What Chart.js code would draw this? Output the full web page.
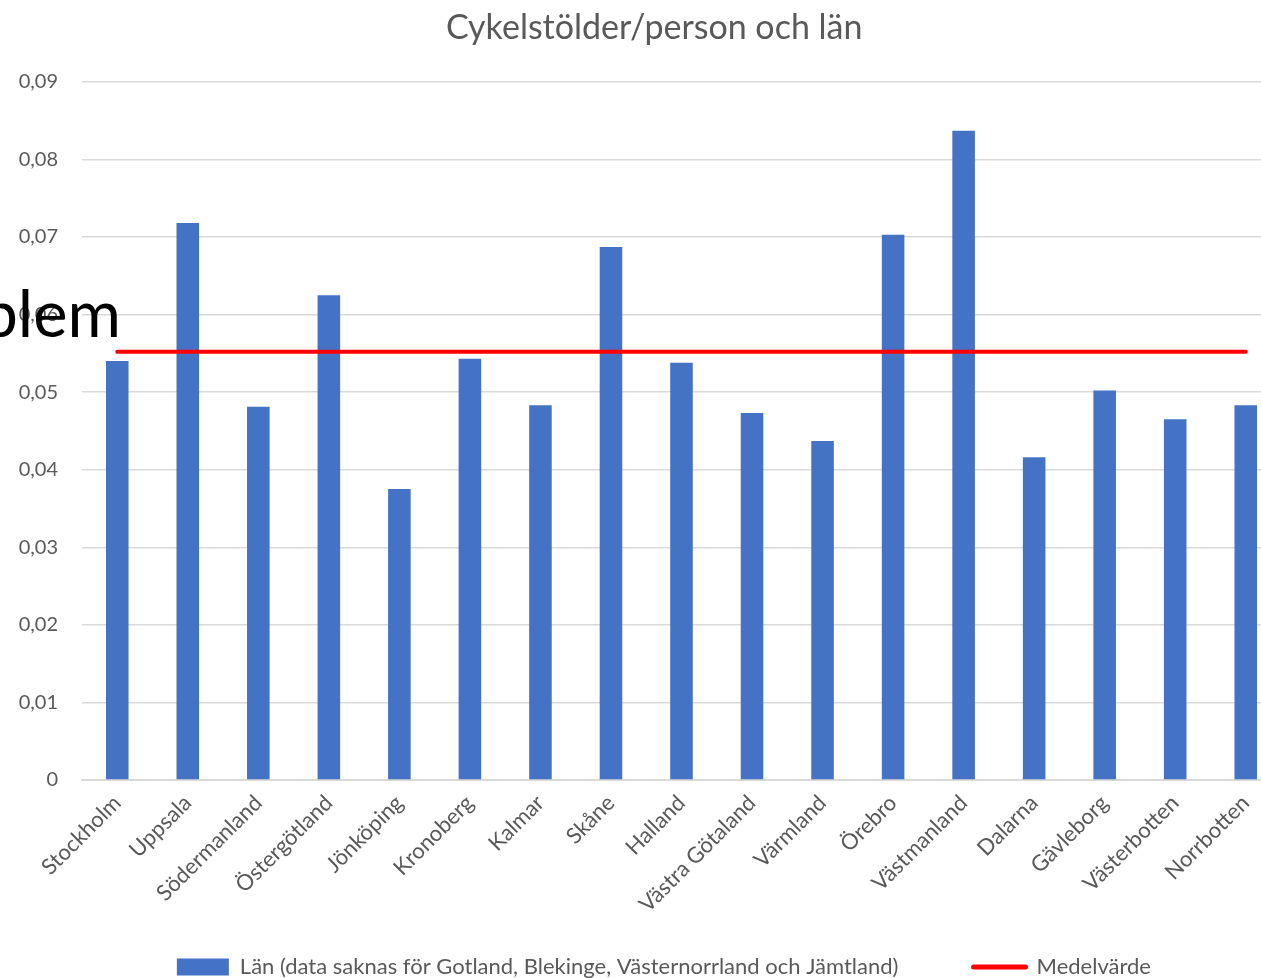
<!DOCTYPE html>
<html>
<head>
<meta charset="utf-8">
<script src="https://cdn.jsdelivr.net/npm/chart.js@4"></script>
<style>
  html, body { margin: 0; padding: 0; background: #fff; overflow: hidden; }
  #wrap { position: relative; width: 1261px; height: 978px; overflow: hidden; }
  #overlay {
    position: absolute; right: 1140px; top: 280px;
    font-family: Lato, sans-serif; font-size: 65px; color: #000;
    white-space: nowrap; line-height: 1;
  }
</style>
</head>
<body>
<div id="wrap">
  <!-- canvas is wider than the window: the original plot runs past the right edge -->
  <canvas id="chart" width="1282" height="978"></canvas>
  <div id="overlay">Problem</div>
</div>
<script>
const counties = ['Stockholm', 'Uppsala', 'Södermanland', 'Östergötland', 'Jönköping', 'Kronoberg',
  'Kalmar', 'Skåne', 'Halland', 'Västra Götaland', 'Värmland', 'Örebro', 'Västmanland',
  'Dalarna', 'Gävleborg', 'Västerbotten', 'Norrbotten'];
const theftsPerPerson = [0.0540, 0.0718, 0.0481, 0.0625, 0.0375, 0.0543, 0.0483, 0.0687, 0.0538,
  0.0473, 0.0437, 0.0703, 0.0837, 0.0416, 0.0502, 0.0465, 0.0483];
const meanValue = [0.0552, 0.0552, 0.0552, 0.0552, 0.0552, 0.0552, 0.0552, 0.0552, 0.0552,
  0.0552, 0.0552, 0.0552, 0.0552, 0.0552, 0.0552, 0.0552, 0.0552];
const yTicks = [0, 0.01, 0.02, 0.03, 0.04, 0.05, 0.06, 0.07, 0.08, 0.09];

const textColor = '#595959';
const font = 'Lato, sans-serif';

const ctx = document.getElementById('chart').getContext('2d');
new Chart(ctx, {
  data: {
    labels: counties,
    datasets: [
      {
        type: 'line',
        label: 'Medelvärde',
        data: meanValue,
        borderColor: '#ff0000',
        backgroundColor: '#ff0000',
        borderWidth: 4,
        borderCapStyle: 'round',
        pointRadius: 0,
        order: 0
      },
      {
        type: 'bar',
        label: 'Län (data saknas för Gotland, Blekinge, Västernorrland och Jämtland)',
        data: theftsPerPerson,
        backgroundColor: '#4472c4',
        barPercentage: 0.32,
        categoryPercentage: 1,
        order: 1
      }
    ]
  },
  options: {
    responsive: false,
    animation: false,
    layout: { padding: { left: 10, right: 1, top: 8, bottom: -10 } },
    plugins: {
      title: {
        display: true,
        text: '  Cykelstölder/person och län',
        color: textColor,
        font: { family: font, size: 34, weight: 'normal' },
        padding: { top: 0, bottom: 33 }
      },
      legend: {
        position: 'bottom',
        labels: {
          color: textColor,
          font: { family: font, size: 22 },
          usePointStyle: true,
          pointStyleWidth: 52,
          boxHeight: 17,
          padding: 2,
          generateLabels(chart) {
            const ds = chart.data.datasets;
            const items = [ds[1], ds[0]].map(d => ({
              text: d.type === 'bar' ? d.label + '             ' : d.label + '     ',
              fillStyle: d.backgroundColor,
              strokeStyle: d.type === 'line' ? d.borderColor : d.backgroundColor,
              lineWidth: d.type === 'line' ? 5 : 0,
              lineCap: 'round',
              pointStyle: d.type === 'line' ? 'line' : 'rect',
              fontColor: textColor,
              datasetIndex: ds.indexOf(d)
            }));
            // invisible spacer so the row sits right of centre like the original
            items.unshift({ text: '', fillStyle: 'rgba(0,0,0,0)', strokeStyle: 'rgba(0,0,0,0)',
              lineWidth: 0, pointStyle: 'rect', fontColor: textColor });
            return items;
          }
        }
      },
      tooltip: { enabled: false }
    },
    scales: {
      x: {
        grid: { display: false },
        border: { color: '#d9d9d9', width: 2 },
        afterFit(axis) { axis.height = 174; },
        ticks: {
          color: textColor,
          font: { family: font, size: 22 },
          maxRotation: 45,
          minRotation: 45,
          padding: 2
        }
      },
      y: {
        min: 0,
        max: 0.09,
        afterBuildTicks(axis) {
          axis.ticks = yTicks.map(v => ({ value: v }));
        },
        afterFit(axis) { axis.width = 72; },
        grid: { color: '#d9d9d9', lineWidth: 1.5, drawTicks: false },
        border: { display: false },
        ticks: {
          color: textColor,
          font: { family: font, size: 20 },
          padding: 24,
          callback: v => v === 0 ? '0' : v.toFixed(2).replace('.', ',')
        }
      }
    }
  }
});
</script>
</body>
</html>
